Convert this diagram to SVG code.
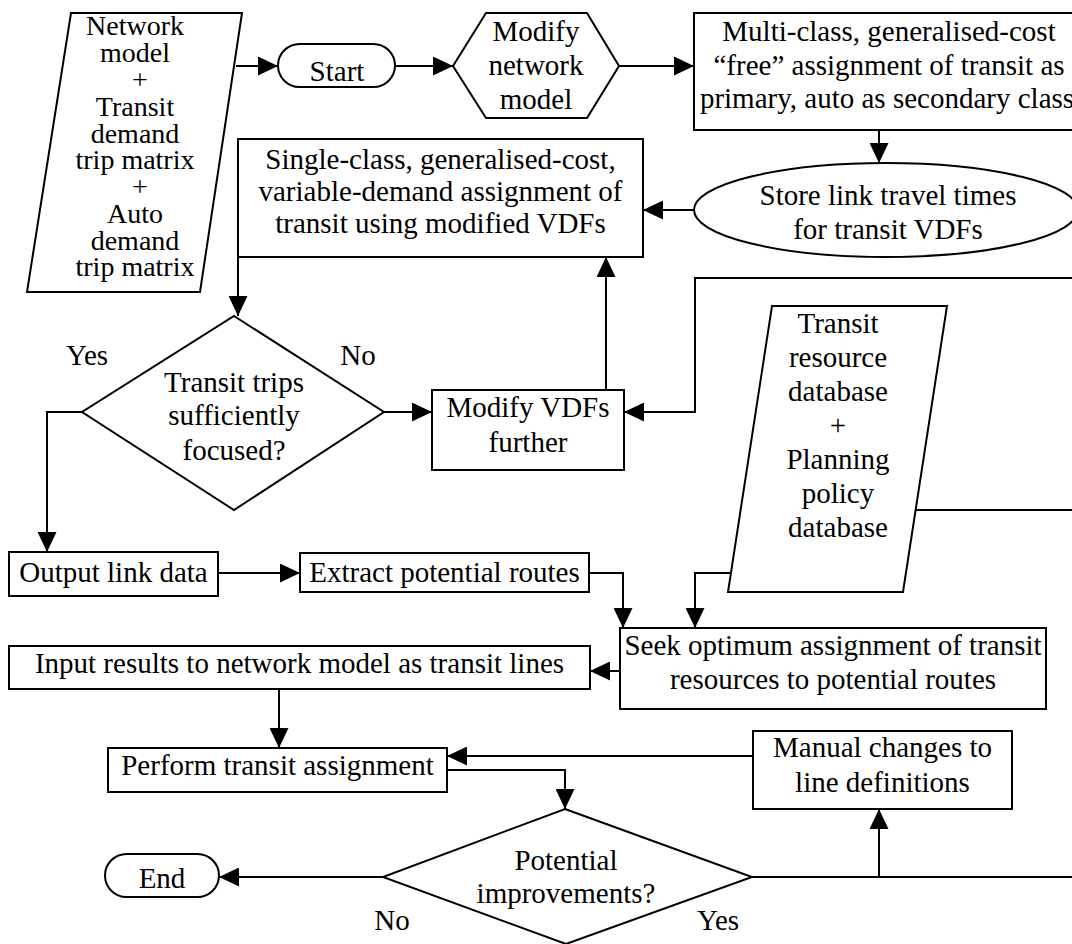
<svg xmlns="http://www.w3.org/2000/svg" width="1072" height="944" viewBox="0 0 1072 944">
<style>
.s{fill:#fff;stroke:#000;stroke-width:2}
.c{fill:none;stroke:#000;stroke-width:2}
text{font-family:'Liberation Serif','Times New Roman',serif;font-size:29px;fill:#000;text-anchor:middle}
.t{font-size:28px}
</style>
<defs>
<marker id="a" markerUnits="userSpaceOnUse" markerWidth="20" markerHeight="19" refX="20" refY="9.5" orient="auto">
<path d="M0,0 L20,9.5 L0,19 z" fill="#000"/>
</marker>
</defs>
<rect width="1072" height="944" fill="#fff"/>
<g id="connectors">
<path class="c" d="M236,66 H278" marker-end="url(#a)"/>
<path class="c" d="M395,66 H453" marker-end="url(#a)"/>
<path class="c" d="M619,66 H694" marker-end="url(#a)"/>
<path class="c" d="M879,130 V163" marker-end="url(#a)"/>
<path class="c" d="M694,210 H643" marker-end="url(#a)"/>
<path class="c" d="M238,257 V316" marker-end="url(#a)"/>
<path class="c" d="M384,412 H432" marker-end="url(#a)"/>
<path class="c" d="M82,412 H47 V552" marker-end="url(#a)"/>
<path class="c" d="M606,390 V257" marker-end="url(#a)"/>
<path class="c" d="M1080,278 H695 V412 H624" marker-end="url(#a)"/>
<path class="c" d="M1080,510 H879" marker-end="url(#a)"/>
<path class="c" d="M218,573 H300" marker-end="url(#a)"/>
<path class="c" d="M589,573 H623 V628" marker-end="url(#a)"/>
<path class="c" d="M731,573 H695 V628" marker-end="url(#a)"/>
<path class="c" d="M620,671 H590" marker-end="url(#a)"/>
<path class="c" d="M279,689 V748" marker-end="url(#a)"/>
<path class="c" d="M753,756 H447" marker-end="url(#a)"/>
<path class="c" d="M447,770 H565 V809" marker-end="url(#a)"/>
<path class="c" d="M383,877 H219" marker-end="url(#a)"/>
<path class="c" d="M752,877 H1080"/>
<path class="c" d="M879,877 V809" marker-end="url(#a)"/>
</g>
<g id="input-network">
<polygon class="s" points="71,13 242,13 200,292 27,292"/>
<text class="t" x="135" y="35">Network</text>
<text class="t" x="135" y="62">model</text>
<text class="t" x="140" y="89">+</text>
<text class="t" x="135" y="116">Transit</text>
<text class="t" x="135" y="143">demand</text>
<text class="t" x="135" y="169">trip matrix</text>
<text class="t" x="140" y="196">+</text>
<text class="t" x="135" y="223">Auto</text>
<text class="t" x="135" y="250">demand</text>
<text class="t" x="135" y="276">trip matrix</text>
</g>
<g id="start">
<rect class="s" x="278" y="44" width="117" height="43" rx="21.5"/>
<text x="337" y="81">Start</text>
</g>
<g id="modify-network">
<polygon class="s" points="453,66 486,13 587,13 619,66 587,118 486,118"/>
<text x="536" y="41">Modify</text>
<text x="536" y="75">network</text>
<text x="536" y="109">model</text>
</g>
<g id="multi-class">
<rect class="s" x="694" y="13" width="392" height="117"/>
<text x="889" y="41">Multi-class, generalised-cost</text>
<text x="889" y="75">“free” assignment of transit as</text>
<text x="887" y="108">primary, auto as secondary class</text>
</g>
<g id="store-times">
<ellipse class="s" cx="886" cy="210" rx="192" ry="47"/>
<text x="888" y="205">Store link travel times</text>
<text x="888" y="239">for transit VDFs</text>
</g>
<g id="single-class">
<rect class="s" x="238" y="139" width="405" height="118"/>
<text x="440.5" y="169">Single-class, generalised-cost,</text>
<text x="440.5" y="201">variable-demand assignment of</text>
<text x="440.5" y="233">transit using modified VDFs</text>
</g>
<g id="decision-focused">
<polygon class="s" points="234,316 384,412 234,510 82,412"/>
<text x="234" y="392">Transit trips</text>
<text x="234" y="425">sufficiently</text>
<text x="234" y="460">focused?</text>
<text x="87" y="365">Yes</text>
<text x="358" y="365">No</text>
</g>
<g id="modify-vdfs">
<rect class="s" x="432" y="390" width="192" height="80"/>
<text x="528" y="417">Modify VDFs</text>
<text x="528" y="452">further</text>
</g>
<g id="input-resources">
<polygon class="s" points="772,306 947,306 903,592 728,592"/>
<text x="838" y="333">Transit</text>
<text x="838" y="367">resource</text>
<text x="838" y="401">database</text>
<text x="838" y="435">+</text>
<text x="838" y="469">Planning</text>
<text x="838" y="503">policy</text>
<text x="838" y="537">database</text>
</g>
<g id="output-link">
<rect class="s" x="9" y="552" width="209" height="44"/>
<text x="113.5" y="582">Output link data</text>
</g>
<g id="extract-routes">
<rect class="s" x="300" y="553" width="289" height="39"/>
<text x="444.5" y="582">Extract potential routes</text>
</g>
<g id="seek-optimum">
<rect class="s" x="620" y="628" width="426" height="81"/>
<text x="833" y="655">Seek optimum assignment of transit</text>
<text x="833" y="689">resources to potential routes</text>
</g>
<g id="input-results">
<rect class="s" x="9" y="646" width="581" height="43"/>
<text x="299.5" y="673">Input results to network model as transit lines</text>
</g>
<g id="perform-assignment">
<rect class="s" x="108" y="748" width="339" height="44"/>
<text x="277.5" y="775">Perform transit assignment</text>
</g>
<g id="manual-changes">
<rect class="s" x="753" y="731" width="259" height="78"/>
<text x="882.5" y="757">Manual changes to</text>
<text x="882.5" y="792">line definitions</text>
</g>
<g id="decision-improvements">
<polygon class="s" points="565,809 752,877 566,944 383,877"/>
<text x="566" y="870">Potential</text>
<text x="566" y="903">improvements?</text>
<text x="392" y="930">No</text>
<text x="718" y="930">Yes</text>
</g>
<g id="end">
<rect class="s" x="105" y="854" width="114" height="43" rx="21.5"/>
<text x="162" y="888">End</text>
</g>
</svg>
